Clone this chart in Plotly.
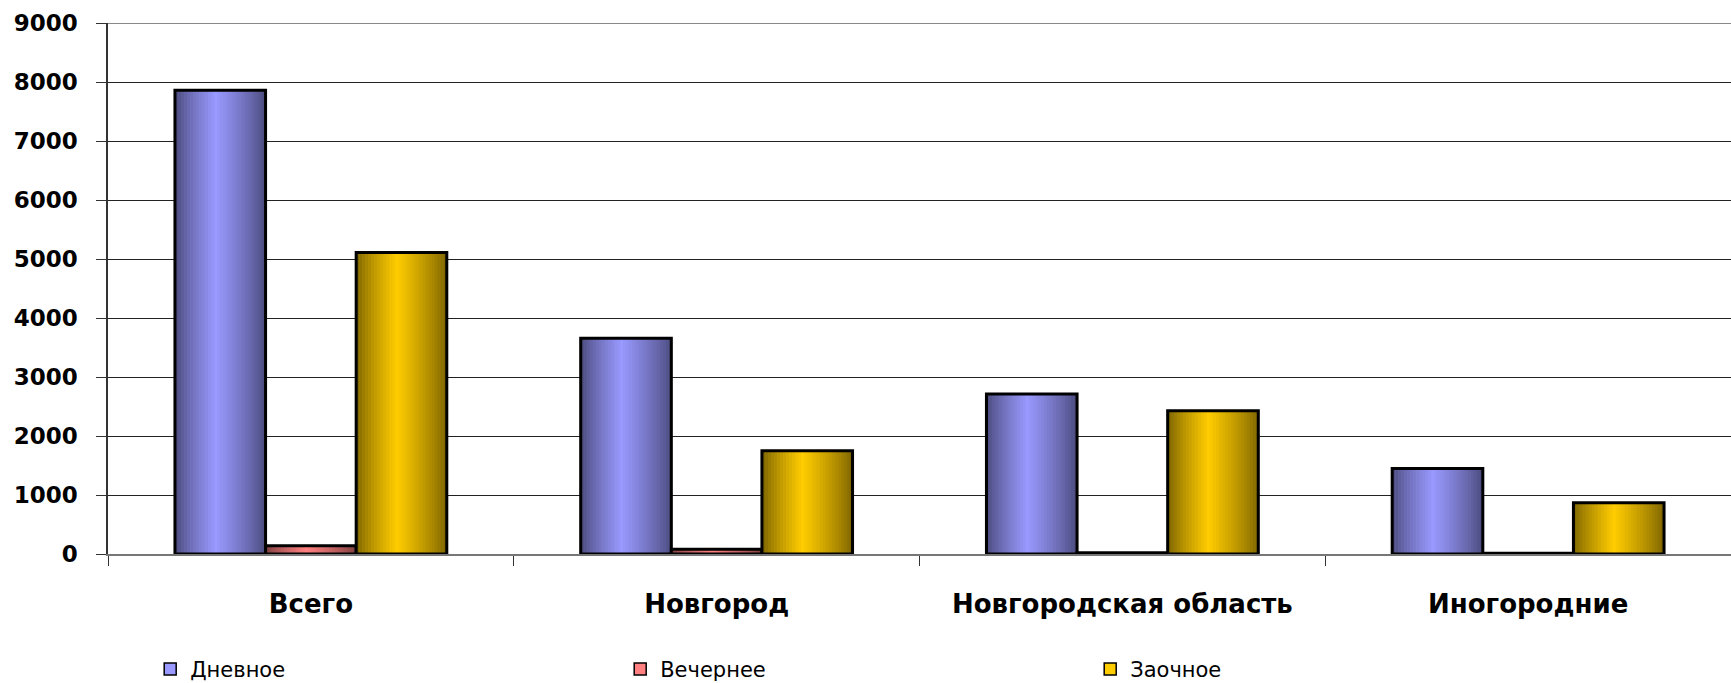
import plotly.graph_objects as go

categories = ["Всего", "Новгород", "Новгородская область", "Иногородние"]
series_names = ["Дневное", "Вечернее", "Заочное"]
dnevnoe = [7860, 3655, 2710, 1450]
vechernee = [140, 80, 20, 12]
zaochnoe = [5110, 1750, 2430, 870]
y_ticks = [0, 1000, 2000, 3000, 4000, 5000, 6000, 7000, 8000, 9000]

series_values = [dnevnoe, vechernee, zaochnoe]
base_colors = [(153, 153, 255), (255, 128, 128), (255, 204, 0)]

FONT = "DejaVu Sans, Arial, sans-serif"
GROUP = 0.67          # share of a category taken by the three bars
BAR_W = GROUP / 3
N_STRIPS = 30         # strips used to fake the horizontal gradient
PEAK = 0.45           # lightest point across each bar


def shade(rgb, t):
    # dark at both edges, light near PEAK
    if t <= PEAK:
        f = t / PEAK
    else:
        f = 1 - (t - PEAK) / (1 - PEAK)
    f = f ** 0.8
    k = 0.47 + 0.53 * f
    return "rgb(%d,%d,%d)" % tuple(round(c * k) for c in rgb)


fig = go.Figure()

for i, (name, vals, rgb) in enumerate(zip(series_names, series_values, base_colors)):
    left = -GROUP / 2 + i * BAR_W
    # legend entry + plain fill underneath
    fig.add_trace(go.Bar(
        x=categories, y=vals, name=name, width=BAR_W, offset=left,
        marker=dict(color="rgb(%d,%d,%d)" % rgb, line=dict(color="black", width=1.5)),
        legendrank=i,
    ))
    # gradient strips
    sw = BAR_W / N_STRIPS
    for j in range(N_STRIPS):
        t = (j + 0.5) / N_STRIPS
        fig.add_trace(go.Bar(
            x=categories, y=vals, width=sw * 1.15, offset=left + j * sw,
            marker=dict(color=shade(rgb, t), line=dict(width=0)),
            showlegend=False, hoverinfo="skip",
        ))
    # outline on top
    fig.add_trace(go.Bar(
        x=categories, y=vals, width=BAR_W, offset=left,
        marker=dict(color="rgba(0,0,0,0)", line=dict(color="black", width=3)),
        showlegend=False, name=name,
    ))

fig.update_layout(
    barmode="overlay",
    width=1731, height=683,
    margin=dict(l=108, r=0, t=23, b=129, autoexpand=False),
    plot_bgcolor="white", paper_bgcolor="white",
    font=dict(family=FONT, color="black"),
    legend=dict(
        orientation="h", x=0.026, xanchor="left", y=-0.217, yanchor="middle",
        font=dict(size=21, family=FONT), entrywidth=425, entrywidthmode="pixels",
        itemclick=False, traceorder="normal",
    ),
)

fig.update_xaxes(
    type="category",
    range=[-0.5, len(categories) - 0.5],
    ticks="outside", tickson="boundaries", ticklen=10, tickcolor="#333",
    showgrid=False, zeroline=False,
    showline=True, linecolor="#777", linewidth=2,
    automargin=False,
    tickfont=dict(size=26, family=FONT, weight="bold"),
    ticklabelstandoff=26,
)

fig.update_yaxes(
    range=[0, 9000], tickvals=y_ticks,
    showgrid=True, gridcolor="#222", gridwidth=1,
    zeroline=False,
    showline=True, linecolor="#333", linewidth=1.5,
    ticks="outside", ticklen=10, tickcolor="#333",
    automargin=False,
    tickfont=dict(size=23, family=FONT, weight="bold"),
    ticklabelstandoff=14,
)
# top border line at 9000
fig.add_shape(type="line", xref="paper", yref="y", x0=0, x1=1, y0=9000, y1=9000,
              line=dict(color="#888", width=2))

# drop the default body margin so the chart fills the window exactly
fig.write_html("out.html", config={"displayModeBar": False},
               post_script="document.body.style.margin='0';"
                           "document.body.style.overflow='hidden';")
